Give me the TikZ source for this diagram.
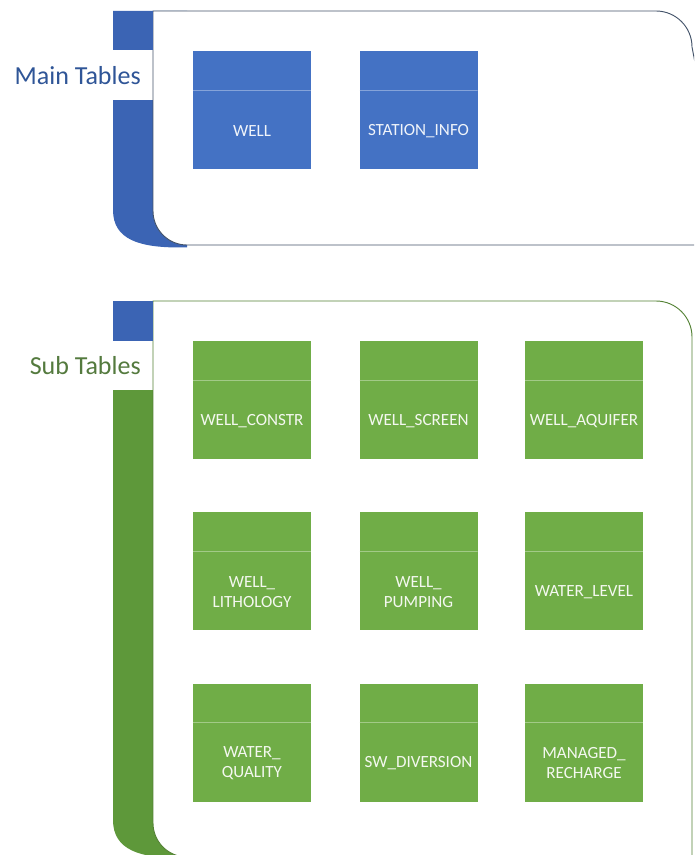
\documentclass[tikz,border=0pt]{standalone}
\usepackage{fontspec}
\setmainfont{Carlito}
\usepackage{xcolor}
\usepackage{tikz}
\usetikzlibrary{positioning}
\definecolor{tableBlue}{RGB}{68, 114, 196}
\definecolor{bracketBlue}{RGB}{59, 100, 180}
\definecolor{labelBlue}{RGB}{47, 85, 151}
\definecolor{borderBlue}{RGB}{68, 84, 106}
\definecolor{tableGreen}{RGB}{112, 173, 71}
\definecolor{bracketGreen}{RGB}{94, 152, 58}
\definecolor{labelGreen}{RGB}{84, 122, 62}
\definecolor{borderGreen}{RGB}{84, 130, 53}

\begin{document}
\begin{tikzpicture}[
    x=0.75pt, y=-0.75pt,
    tableBox/.style={rectangle, fill=#1, minimum width=88.5pt, minimum height=88.5pt, inner sep=0pt,
        path picture={\draw[white!35!#1, line width=0.6pt]
            ([yshift=-29.25pt]path picture bounding box.north west) -- ([yshift=-29.25pt]path picture bounding box.north east);}},
    tableText/.style={font=\fontsize{12.8}{15}\selectfont, text=white!92!#1, align=center, yshift=-15.6pt},
    groupLabel/.style={anchor=east, font=\fontsize{19.5}{22}\selectfont, inner sep=0pt},
    groupBorder/.style={draw=#1, line width=0.7pt, fill=white}
]
\clip (0,0) rectangle (694,855);
\fill[white] (0,0) rectangle (694,855);

% Main tables (top group)
\fill[bracketBlue] (113,11) -- (187,11) -- (187,247.5) -- (180,247.5) .. controls (140,247.5) and (113,240) .. (113,210) -- cycle;
\fill[white] (0,50) rectangle (153,100);
\draw[groupBorder=borderBlue] (153,11) -- (656,11) arc[start angle=270, end angle=360, radius=36] -- (730,245) -- (187,245) arc[start angle=90, end angle=180, radius=34] -- cycle;
\fill[bracketBlue] (113,11) rectangle (153,50);
\node[groupLabel, text=labelBlue] (mainLabel) at (141,76) {Main Tables};

\node[tableBox=tableBlue, label={[tableText=tableBlue]center:WELL}] (well) at (252,110) {};
\node[tableBox=tableBlue, label={[tableText=tableBlue]center:STATION\_INFO}] (stationInfo) at (418.5,110) {};

% Sub tables (bottom group)
\fill[bracketGreen] (113,390) -- (187,390) -- (187,858) -- (180,858) .. controls (140,858) and (113,850) .. (113,820) -- cycle;
\fill[white] (0,341) rectangle (153,390);
\draw[groupBorder=borderGreen] (153,301) -- (656,301) arc[start angle=270, end angle=360, radius=36] -- (692,900) -- (187,900) -- (187,857) arc[start angle=90, end angle=180, radius=34] -- cycle;
\fill[bracketBlue] (113,301) rectangle (153,341);
\node[groupLabel, text=labelGreen] (subLabel) at (141,366) {Sub Tables};

\node[tableBox=tableGreen, label={[tableText=tableGreen]center:WELL\_CONSTR}] (wellConstr) at (252,400) {};
\node[tableBox=tableGreen, label={[tableText=tableGreen]center:WELL\_SCREEN}] (wellScreen) at (418.5,400) {};
\node[tableBox=tableGreen, label={[tableText=tableGreen]center:WELL\_AQUIFER}] (wellAquifer) at (584,400) {};

\node[tableBox=tableGreen, label={[tableText=tableGreen]center:WELL\_\\LITHOLOGY}] (wellLith) at (252,571) {};
\node[tableBox=tableGreen, label={[tableText=tableGreen]center:WELL\_\\PUMPING}] (wellPumping) at (418.5,571) {};
\node[tableBox=tableGreen, label={[tableText=tableGreen]center:WATER\_LEVEL}] (waterLevel) at (584,571) {};

\node[tableBox=tableGreen, label={[tableText=tableGreen]center:WATER\_\\QUALITY}] (waterQuality) at (252,742.5) {};
\node[tableBox=tableGreen, label={[tableText=tableGreen]center:SW\_DIVERSION}] (swDiversion) at (418.5,742.5) {};
\node[tableBox=tableGreen, label={[tableText=tableGreen]center:MANAGED\_\\RECHARGE}] (managedRecharge) at (584,742.5) {};

\end{tikzpicture}
\end{document}
